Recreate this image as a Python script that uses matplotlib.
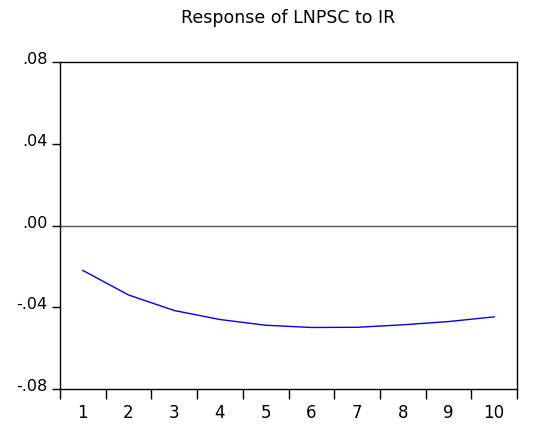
import matplotlib
matplotlib.use("Agg")
import matplotlib.pyplot as plt
import matplotlib.transforms as mtransforms
import numpy as np

title = "Response of LNPSC to IR"
periods = [1, 2, 3, 4, 5, 6, 7, 8, 9, 10]
response = [-0.022, -0.034, -0.0416, -0.046, -0.0488, -0.0499, -0.0498, -0.0486, -0.047, -0.0447]
ytick_vals = [-0.08, -0.04, 0.00, 0.04, 0.08]
ytick_labels = ["-.08", "-.04", ".00", ".04", ".08"]

plt.rcParams['font.family'] = ['DejaVu Sans']

fig = plt.figure(figsize=(5.34, 4.28), dpi=100)
ax = fig.add_axes([60/534, 39/428, 457/534, 327/428])

ax.plot(periods, response, color='#0000ff', lw=1.0)
ax.axhline(0, color='#555555', lw=1.0)

ax.set_xlim(0.5, 10.5)
ax.set_ylim(-0.08, 0.08)

ax.set_yticks(ytick_vals, ytick_labels)
ax.set_xticks(periods, [str(p) for p in periods])
ax.set_xticks(np.arange(0.5, 11, 1.0), minor=True)
ax.tick_params(axis='x', which='major', length=0, pad=11, labelsize=12)
ax.tick_params(axis='x', which='minor', length=7, width=1, direction='out')
ax.tick_params(axis='y', which='major', length=6, width=1, direction='out', pad=3, labelsize=11.5)

offset = mtransforms.ScaledTranslation(0, 4/100, fig.dpi_scale_trans)
for tick in ax.yaxis.get_major_ticks():
    tick.label1.set_transform(tick.label1.get_transform() + offset)

for s in ax.spines.values():
    s.set_linewidth(1.0)
    s.set_color('black')

ax.set_title(title, fontsize=12.5, pad=28)

fig.savefig("out.png", dpi=100)
